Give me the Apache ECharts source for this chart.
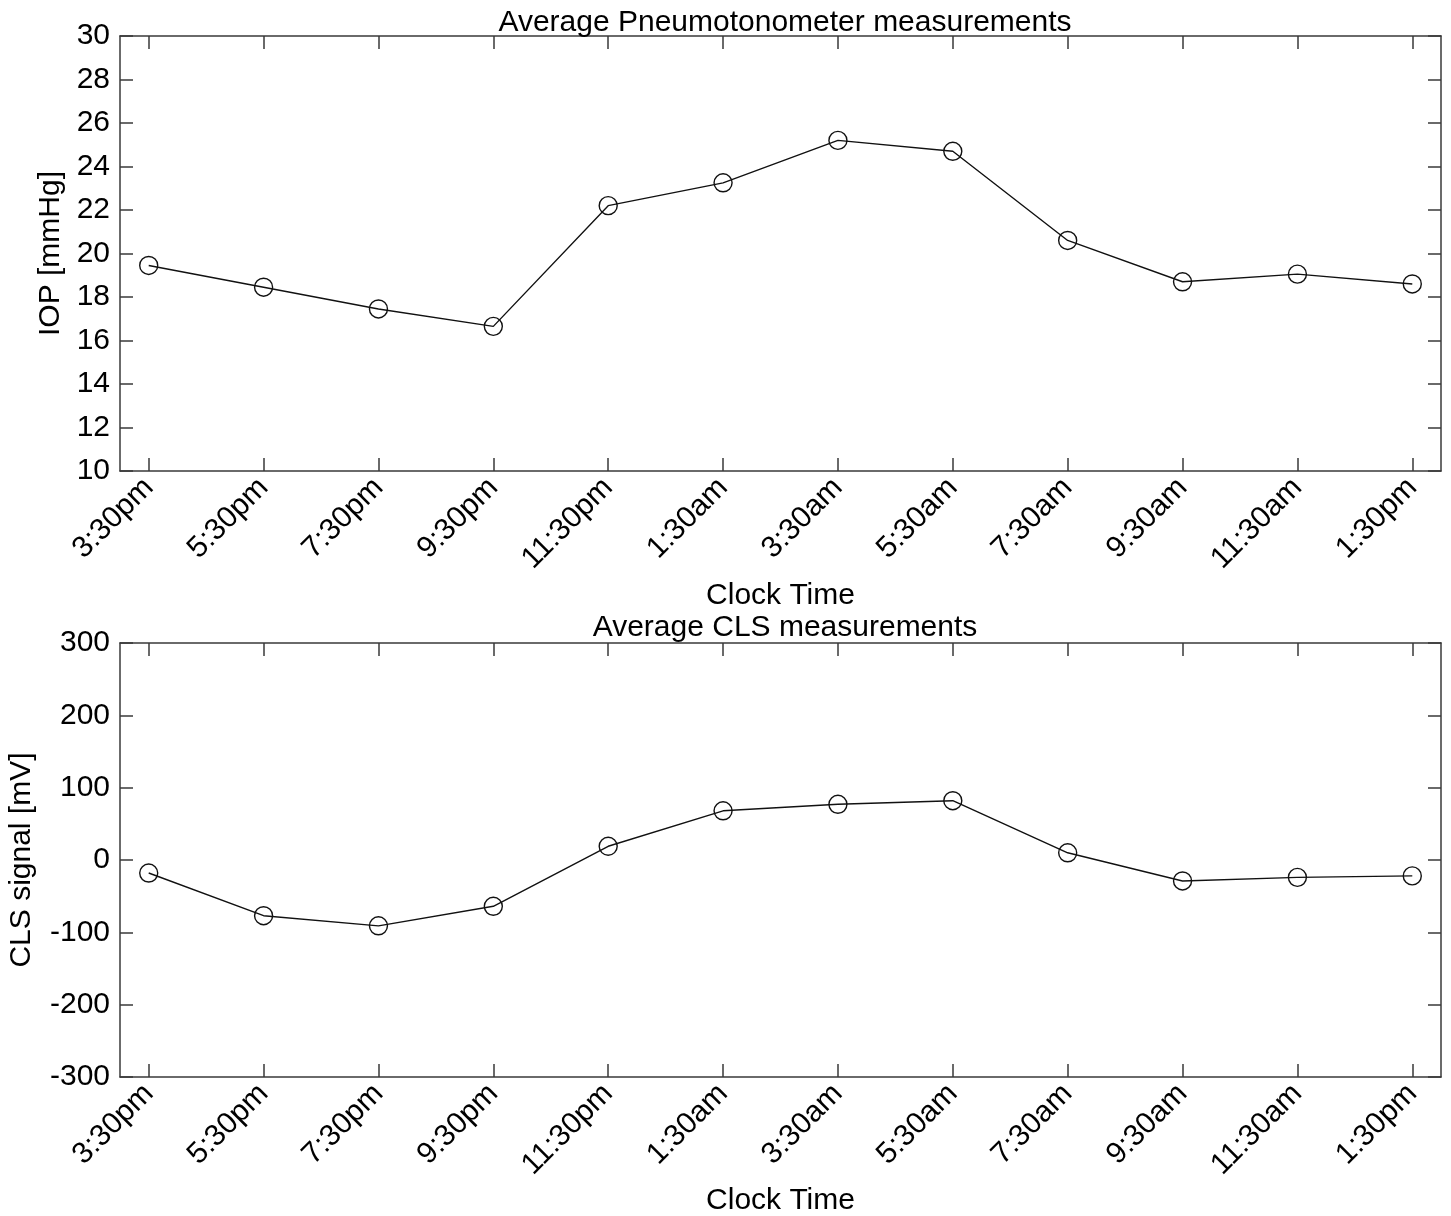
<!DOCTYPE html>
<html>
<head>
<meta charset="utf-8">
<script src="https://cdn.jsdelivr.net/npm/echarts@6/dist/echarts.min.js"></script>
<style>
  html, body { margin: 0; padding: 0; background: #fff; }
  #main { width: 1451px; height: 1216px; }
</style>
</head>
<body>
<div id="main"></div>
<script>
// data
var clockTimes = ['3:30pm', '5:30pm', '7:30pm', '9:30pm', '11:30pm', '1:30am',
  '3:30am', '5:30am', '7:30am', '9:30am', '11:30am', '1:30pm']
var iopValues = [19.45, 18.45, 17.45, 16.65, 22.2, 23.25, 25.2, 24.7, 20.6, 18.7, 19.05, 18.6]
var clsValues = [-18, -77, -91, -64, 19, 68, 77, 82, 10, -29, -24, -22]
var iopTicks = [10, 30, 2]     // min, max, step
var clsTicks = [-300, 300, 100]

var FONT = 'Liberation Sans, Arial, sans-serif'
var FS = 30
var AXIS_COLOR = '#3a3a3a'
var xPos = clockTimes.map((d, i) => i + 1)

function pairs (vals) {
  return vals.map((v, i) => [i + 1, v])
}

var chart = echarts.init(document.getElementById('main'))

var grids = [
  { left: 120, top: 36, width: 1321, height: 435, outerBoundsMode: 'none' },
  { left: 120, top: 643, width: 1321, height: 434, outerBoundsMode: 'none' }
]

function mainX (gi, nameGap) {
  return {
    type: 'value', gridIndex: gi, min: 0.75, max: 12.25, position: 'bottom',
    name: 'Clock Time', nameLocation: 'middle', nameGap: nameGap,
    nameTextStyle: { fontFamily: FONT, fontSize: FS, color: '#000' },
    axisLine: { show: true, onZero: false, lineStyle: { color: AXIS_COLOR, width: 1.5 } },
    axisTick: { show: true, inside: true, length: 13, customValues: xPos, lineStyle: { color: AXIS_COLOR, width: 1.5 } },
    axisLabel: {
      customValues: xPos, rotate: 45, margin: 12,
      fontFamily: FONT, fontSize: FS, color: '#000',
      formatter: v => clockTimes[Math.round(v) - 1] || ''
    },
    splitLine: { show: false }
  }
}
function boxX (gi) {
  return {
    type: 'value', gridIndex: gi, min: 0.75, max: 12.25, position: 'top',
    axisLine: { show: true, onZero: false, lineStyle: { color: AXIS_COLOR, width: 1.5 } },
    axisTick: { show: true, inside: true, length: 13, customValues: xPos, lineStyle: { color: AXIS_COLOR, width: 1.5 } },
    axisLabel: { show: false },
    splitLine: { show: false }
  }
}
function mainY (gi, ticks, name, nameGap) {
  return {
    type: 'value', gridIndex: gi, min: ticks[0], max: ticks[1], interval: ticks[2], position: 'left',
    name: name, nameLocation: 'middle', nameGap: nameGap,
    nameTextStyle: { fontFamily: FONT, fontSize: FS, color: '#000' },
    axisLine: { show: true, onZero: false, lineStyle: { color: AXIS_COLOR, width: 1.5 } },
    axisTick: { show: true, inside: true, length: 13, lineStyle: { color: AXIS_COLOR, width: 1.5 } },
    axisLabel: { margin: 10, fontFamily: FONT, fontSize: FS, color: '#000' },
    splitLine: { show: false }
  }
}
function boxY (gi, ticks) {
  return {
    type: 'value', gridIndex: gi, min: ticks[0], max: ticks[1], interval: ticks[2], position: 'right',
    axisLine: { show: true, onZero: false, lineStyle: { color: AXIS_COLOR, width: 1.5 } },
    axisTick: { show: true, inside: true, length: 13, lineStyle: { color: AXIS_COLOR, width: 1.5 } },
    axisLabel: { show: false },
    splitLine: { show: false }
  }
}

// open circles, the line runs through them
function lineSeries (xi, yi, vals) {
  return {
    type: 'line', xAxisIndex: xi, yAxisIndex: yi, data: pairs(vals),
    symbol: 'circle', symbolSize: 18, showSymbol: true,
    lineStyle: { color: '#111', width: 1.4 },
    itemStyle: { color: 'rgba(0,0,0,0)', borderColor: '#111', borderWidth: 1.4 },
    animation: false, silent: true, z: 5
  }
}

chart.setOption({
  animation: false,
  title: [
    { text: 'Average Pneumotonometer measurements', left: 780, top: 3, textAlign: 'center',
      textStyle: { fontFamily: FONT, fontSize: FS, fontWeight: 'normal', color: '#000' } },
    { text: 'Average CLS measurements', left: 780, top: 608, textAlign: 'center',
      textStyle: { fontFamily: FONT, fontSize: FS, fontWeight: 'normal', color: '#000' } }
  ],
  grid: grids,
  xAxis: [mainX(0, 110), boxX(0), mainX(1, 109), boxX(1)],
  yAxis: [
    mainY(0, iopTicks, 'IOP [mmHg]', 53), boxY(0, iopTicks),
    mainY(1, clsTicks, 'CLS signal [mV]', 83), boxY(1, clsTicks)
  ],
  series: [
    lineSeries(0, 0, iopValues),
    lineSeries(2, 2, clsValues)
  ]
})
</script>
</body>
</html>
